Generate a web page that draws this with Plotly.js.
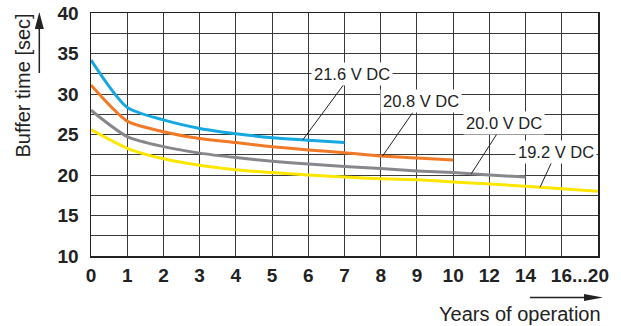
<!DOCTYPE html>
<html><head><meta charset="utf-8">
<script src="https://cdn.plot.ly/plotly-3.0.1.min.js"></script>
<style>html,body{margin:0;padding:0;background:#fff;}#chart{width:621px;height:326px;}</style>
</head><body><div id="chart"></div>
<script>
// Years of operation (x axis is not linear: positions are evenly spaced categories)
const yearLabels = ['0','1','2','3','4','5','6','7','8','9','10','12','14','16','20'];
const xTickText = ['0','1','2','3','4','5','6','7','8','9','10','12','14','16...20'];
const xTickPos = [0,1,2,3,4,5,6,7,8,9,10,11,12,13.5];
const yTickVals = [10,12.5,15,17.5,20,22.5,25,27.5,30,32.5,35,37.5,40];
const yTickText = ['10','','15','','20','','25','','30','','35','','40'];

// Buffer time [sec] per supply voltage
const seriesNames = ['21.6 V DC','20.8 V DC','20.0 V DC','19.2 V DC'];
const v216 = [34.2, 28.35, 26.8, 25.75, 25.1, 24.6, 24.3, 24.0];
const v208 = [31.1, 26.65, 25.35, 24.5, 24.0, 23.5, 23.1, 22.75, 22.35, 22.1, 21.85];
const v200 = [28.0, 24.75, 23.5, 22.7, 22.15, 21.7, 21.35, 21.05, 20.8, 20.5, 20.3, 20.0, 19.75];
const v192 = [25.6, 23.3, 22.0, 21.2, 20.65, 20.3, 20.0, 19.75, 19.55, 19.4, 19.15, 18.9, 18.6, 18.3, 18.0];
const seriesValues = [v216, v208, v200, v192];
const seriesColors = ['#16a8e0', '#f07a28', '#88888c', '#ffe600'];

// label placement: point on curve (index) and label centre (index, value)
const labelPointX = [5.85, 8.05, 10.5, 12.4];
const labelTextX = [7.2, 9.1, 11.4, 12.85];
const labelTextY = [32.5, 29.1, 26.4, 22.85];

const FONT = 'Liberation Sans, Arial, Helvetica, sans-serif';
const L = 91, R = 598, T = 13, B = 256, W = 621, H = 326;
const px = x => (x - L) / (R - L);
const py = y => (B - y) / (B - T);

function interpAt(arr, x) {
  const i = Math.min(Math.floor(x), arr.length - 2);
  const f = x - i;
  return arr[i] + (arr[i + 1] - arr[i]) * f;
}

const traces = seriesValues.map((vals, k) => ({
  type: 'scatter', mode: 'lines',
  x: vals.map((_, i) => i), y: vals,
  name: seriesNames[k],
  line: {color: seriesColors[k], width: 3, shape: 'spline', smoothing: 0.7},
  hoverinfo: 'skip', showlegend: false
}));
traces.push({type: 'scatter', x: [0], y: [null], xaxis: 'x2', yaxis: 'y', showlegend: false, hoverinfo: 'skip'});

const annotations = seriesNames.map((name, k) => ({
  x: labelPointX[k], y: interpAt(seriesValues[k], labelPointX[k]), xref: 'x', yref: 'y',
  ax: labelTextX[k], ay: labelTextY[k], axref: 'x', ayref: 'y',
  text: name, showarrow: true, arrowhead: 0, arrowwidth: 1, arrowcolor: '#222',
  bgcolor: '#ffffff', borderpad: 2,
  font: {family: FONT, size: 16.5, color: '#222'}
}));
annotations.push({
  xref: 'paper', yref: 'paper', x: px(22.5), y: py(86), textangle: -90,
  text: 'Buffer time [sec]', showarrow: false, xanchor: 'center', yanchor: 'middle',
  font: {family: FONT, size: 20, color: '#222'}
});
annotations.push({
  xref: 'paper', yref: 'paper', x: px(520), y: py(314),
  text: 'Years of operation', showarrow: false, xanchor: 'center', yanchor: 'middle',
  font: {family: FONT, size: 20, color: '#222'}
});

const shapes = [
  {type: 'line', xref: 'paper', yref: 'paper', x0: px(39.3), x1: px(39.3), y0: py(73), y1: py(27), line: {color: '#222', width: 1.5}},
  {type: 'path', xref: 'paper', yref: 'paper', path: `M${px(39.3)},${py(12)} L${px(34.8)},${py(29)} L${px(43.8)},${py(29)} Z`, fillcolor: '#222', line: {width: 0}},
  {type: 'line', xref: 'paper', yref: 'paper', x0: px(530), x1: px(586), y0: py(297.5), y1: py(297.5), line: {color: '#222', width: 1.5}},
  {type: 'path', xref: 'paper', yref: 'paper', path: `M${px(603)},${py(297.5)} L${px(584)},${py(294)} L${px(584)},${py(301)} Z`, fillcolor: '#222', line: {width: 0}}
];

const gridColor = '#3a3a3a';
const layout = {
  width: W, height: H,
  margin: {l: L, r: W - R, t: T, b: H - B, pad: 0},
  paper_bgcolor: '#fff', plot_bgcolor: '#fff',
  showlegend: false,
  xaxis: {
    range: [0, 14], tick0: 0, dtick: 1, showgrid: true, gridcolor: gridColor, gridwidth: 1,
    showticklabels: false, ticks: '', zeroline: false,
    showline: true, mirror: true, linecolor: '#222', linewidth: 1.5
  },
  xaxis2: {
    overlaying: 'x', anchor: 'y', side: 'bottom', range: [0, 14],
    tickmode: 'array', tickvals: xTickPos, ticktext: xTickText,
    showgrid: false, zeroline: false, showline: false, ticks: '',
    ticklabelstandoff: 6,
    tickfont: {family: FONT, size: 19, weight: 700, color: '#222'}
  },
  yaxis: {
    range: [10, 40], tickmode: 'array', tickvals: yTickVals, ticktext: yTickText,
    showgrid: true, gridcolor: gridColor, gridwidth: 1, zeroline: false, ticks: '',
    ticklabelstandoff: 7,
    showline: true, mirror: true, linecolor: '#222', linewidth: 1.5,
    tickfont: {family: FONT, size: 19, weight: 700, color: '#222'}
  },
  annotations: annotations,
  shapes: shapes
};

Plotly.newPlot('chart', traces, layout, {staticPlot: true, displayModeBar: false});
</script>
</body></html>
